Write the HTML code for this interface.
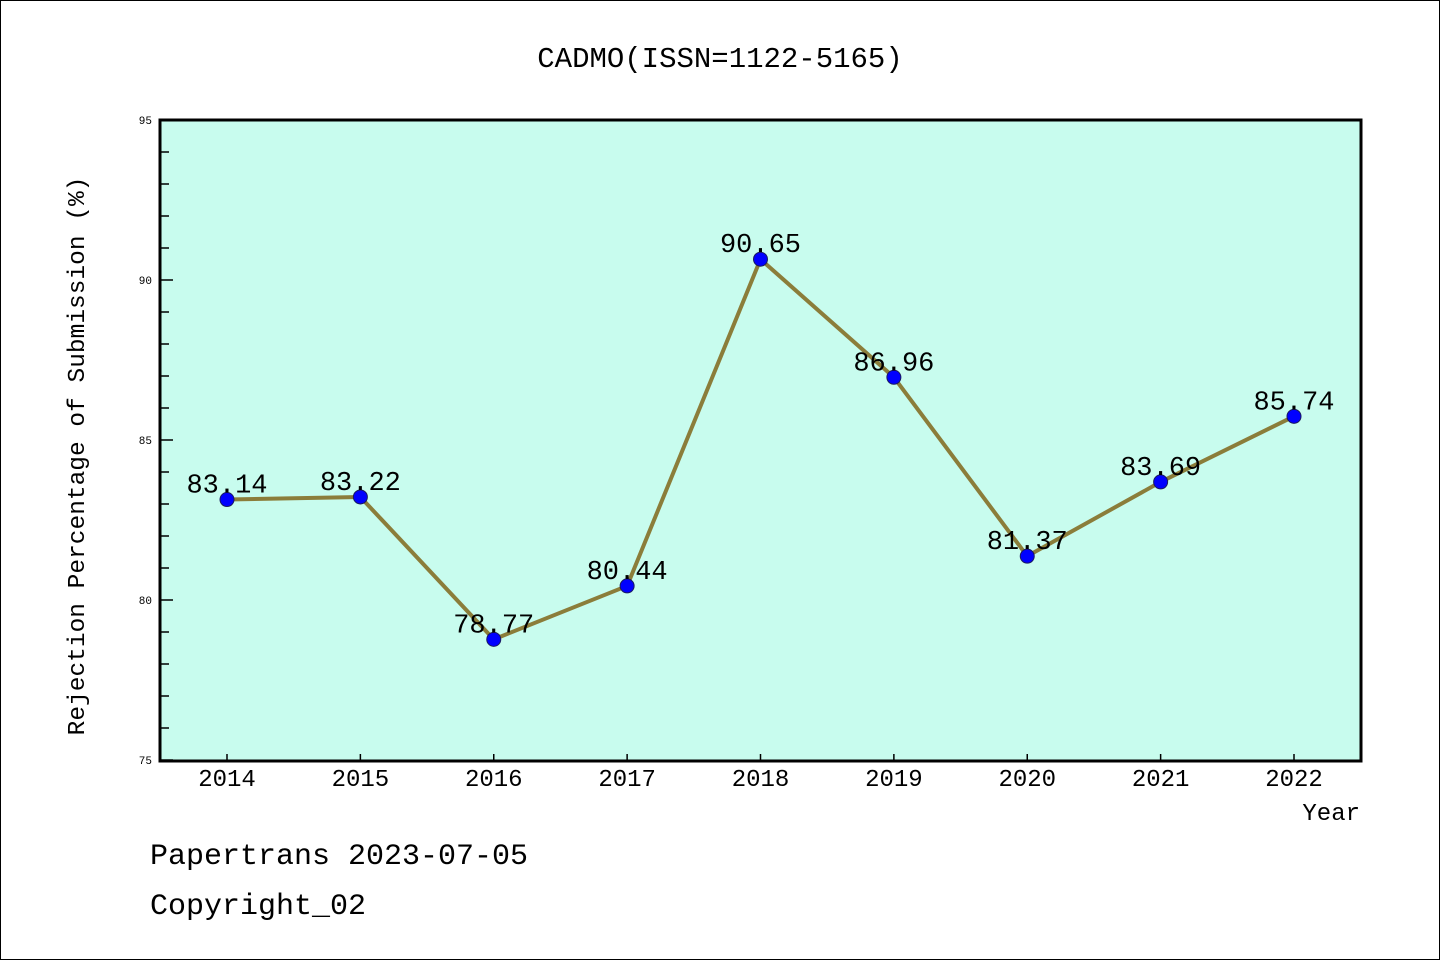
<!DOCTYPE html>
<html><head><meta charset="utf-8"><style>
html,body{margin:0;padding:0;background:#fff}
svg{display:block}
text{font-family:"WenQuanYi Zen Hei Mono","Liberation Mono",monospace;fill:#000}
</style></head><body>
<svg id="chart" width="1440" height="960" viewBox="0 0 1440 960" xmlns="http://www.w3.org/2000/svg">
<rect x="0.5" y="0.5" width="1439" height="959" fill="#fff" stroke="#000" stroke-width="1"/>
<text x="720" y="67" font-size="29" text-anchor="middle">CADMO(ISSN=1122-5165)</text>
<rect x="160" y="120" width="1201" height="641" fill="#c8fcee"/>
<g id="ticks"></g>
<g id="series"></g>
<rect x="160" y="120" width="1201" height="641" fill="none" stroke="#000" stroke-width="3"/>
<text transform="translate(84,456) rotate(-90)" font-size="24.5" text-anchor="middle">Rejection Percentage of Submission (%)</text>
<text x="1360" y="820" font-size="24" text-anchor="end">Year</text>
<text x="150" y="864" font-size="30">Papertrans 2023-07-05</text>
<text x="150" y="914" font-size="30">Copyright_02</text>
</svg>
<script>
const years = ["2014","2015","2016","2017","2018","2019","2020","2021","2022"];
const values = [83.14,83.22,78.77,80.44,90.65,86.96,81.37,83.69,85.74];
const valueLabels = ["83.14","83.22","78.77","80.44","90.65","86.96","81.37","83.69","85.74"];
const yMajorTicks = [75,80,85,90,95];
const yMin = 75, yMax = 95;
const NS = "http://www.w3.org/2000/svg";
const L=160,R=1361,T=120,B=760;
const x0=227, x1=1294;
function xScale(i){return x0+(x1-x0)*i/(years.length-1);}
function yScale(v){return B-(v-yMin)/(yMax-yMin)*(B-T);}
function mk(tag,attrs,parent){const e=document.createElementNS(NS,tag);for(const k in attrs)e.setAttribute(k,attrs[k]);parent.appendChild(e);return e;}
const tg=document.getElementById('ticks');
for(let v=yMin;v<=yMax;v++){
  const major=yMajorTicks.includes(v);
  const y=yScale(v);
  const t=mk('line',{x1:L,x2:L+(major?13:9),y1:y,y2:y,stroke:'#000','stroke-width':1.5},tg);
  
  
}
yMajorTicks.forEach(v=>{
  const t=mk('text',{x:L-8,y:yScale(v)+4,'font-size':11,'text-anchor':'end'},tg);
  t.textContent=v;
  
  
});
years.forEach((yr,i)=>{
  const x=xScale(i);
  const t=mk('line',{x1:x,x2:x,y1:B,y2:B-6,stroke:'#000','stroke-width':1.5},tg);
  
  
  const lb=mk('text',{x:x,y:786,'font-size':24,'text-anchor':'middle'},tg);
  lb.textContent=yr;
  
  
});
const sg=document.getElementById('series');
const pts=values.map((v,i)=>xScale(i)+','+yScale(v)).join(' ');
const line=mk('polyline',{points:pts,fill:'none',stroke:'#8b7d3a','stroke-width':4,'stroke-linejoin':'round'},sg);


values.forEach((v,i)=>{
  const c=mk('circle',{cx:xScale(i),cy:yScale(v),r:7,fill:'#0000ff',stroke:'#1a1a60','stroke-width':1},sg);
  
  
  const t=mk('text',{x:xScale(i),y:yScale(v)-7,'font-size':27,'text-anchor':'middle'},sg);
  t.textContent=valueLabels[i];
  
  
});
</script>
</body></html>
